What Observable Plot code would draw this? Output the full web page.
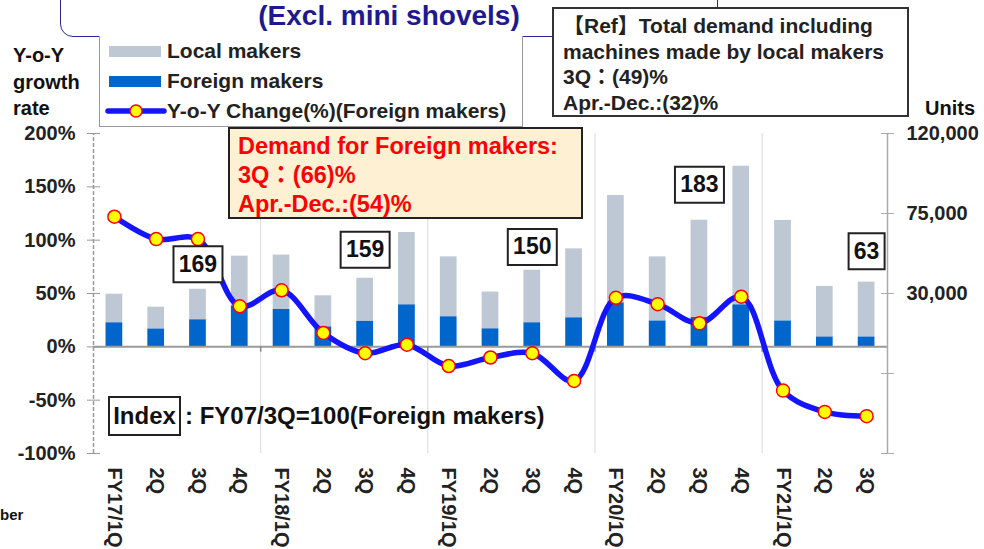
<!DOCTYPE html>
<html><head><meta charset="utf-8">
<script src="https://cdn.jsdelivr.net/npm/d3@7"></script>
<script src="https://cdn.jsdelivr.net/npm/@observablehq/plot@0.6"></script>
<style>
html,body{margin:0;padding:0;background:#fff;}
#wrap{position:relative;width:984px;height:549px;overflow:hidden;font-family:"Liberation Sans",Arial,"Noto Sans CJK JP",sans-serif;font-weight:bold;color:#222;}
#chart{position:absolute;left:0;top:0;}
.ov{position:absolute;white-space:nowrap;box-sizing:border-box;}
.lg{position:absolute;left:67px;font-size:21px;line-height:22px;}
</style></head><body>
<div id="wrap">
<div id="chart"></div>
<div class="ov" style="left:60px;top:-22px;width:658px;height:59px;border:1.5px solid #2A2A96;border-radius:0 0 13px 13px;background:#fff;"></div>
<div class="ov" style="left:60px;width:658px;top:1px;text-align:center;font-size:28px;line-height:30px;color:#1E1A8E;">(Excl. mini shovels)</div>
<div class="ov" style="left:99px;top:36px;width:424px;height:91px;border:1px solid #999;border-top:none;background:#fff;">
  <div style="position:absolute;left:9px;top:10px;width:52px;height:11px;background:#BDC8D4;"></div>
  <div class="lg" style="top:4px;">Local makers</div>
  <div style="position:absolute;left:9px;top:40px;width:52px;height:11px;background:#0066CC;"></div>
  <div class="lg" style="top:34px;">Foreign makers</div>
  <svg style="position:absolute;left:5px;top:66px;" width="62" height="18"><line x1="3" y1="9" x2="59" y2="9" stroke="#1414FF" stroke-width="5.5" stroke-linecap="round"/><circle cx="31" cy="9" r="6" fill="#FFFF00" stroke="#FF0000" stroke-width="1.5"/></svg>
  <div class="lg" style="top:64px;">Y-o-Y Change(%)(Foreign makers)</div>
</div>
<div class="ov" style="left:552px;top:7px;width:357px;height:110px;border:2px solid #333;background:#fff;padding:4px 0 0 9px;font-size:21px;line-height:25.5px;color:#222;">【Ref】Total demand including<br>machines made by local makers<br>3Q：(49)%<br>Apr.-Dec.:(32)%</div>
<div class="ov" style="left:13px;top:42px;font-size:20px;line-height:26.5px;color:#111;">Y-o-Y<br>growth<br>rate</div>
<div class="ov" style="left:925px;top:96px;font-size:20px;line-height:24px;color:#111;">Units</div>
<div class="ov" style="left:228px;top:127px;width:355px;height:92px;border:2px solid #222;background:#FEF1D3;padding:3px 0 0 8px;font-size:23.5px;line-height:29px;color:#FF0000;">Demand for Foreign makers:<br>3Q：(66)%<br>Apr.-Dec.:(54)%</div>
<div class="ov" style="left:108px;top:396px;width:73px;height:40px;border:2px solid #222;font-size:24px;line-height:36px;text-align:center;color:#111;">Index</div>
<div class="ov" style="left:185px;top:402px;font-size:24px;line-height:28px;color:#111;">: FY07/3Q=100(Foreign makers)</div>
<div class="ov" style="left:0px;top:506px;font-size:15px;line-height:18px;color:#111;">ber</div>
</div>
<script>
// ---- data ----
const periods = ["FY17/1Q","FY17/2Q","FY17/3Q","FY17/4Q","FY18/1Q","FY18/2Q","FY18/3Q","FY18/4Q","FY19/1Q","FY19/2Q","FY19/3Q","FY19/4Q","FY20/1Q","FY20/2Q","FY20/3Q","FY20/4Q","FY21/1Q","FY21/2Q","FY21/3Q"];
const tickLabels = ["FY17/1Q","2Q","3Q","4Q","FY18/1Q","2Q","3Q","4Q","FY19/1Q","2Q","3Q","4Q","FY20/1Q","2Q","3Q","4Q","FY21/1Q","2Q","3Q"];
const foreignUnits = [13500,10000,15200,23000,21000,11200,14300,23600,16900,10100,13500,16300,24700,14500,16500,23600,14500,5500,5500];
const localUnits = [16100,12300,17200,28000,30600,17500,24300,40700,33700,20700,29600,38800,60400,36100,54700,78000,56600,28500,30900];
const yoyChange = [122,101,101,38,53,13,-6,2,-18,-10,-6,-32,46,40,22,47,-41,-61,-65];
const indexPeriods = ["FY17/3Q","FY18/3Q","FY19/3Q","FY20/3Q","FY21/3Q"];
const indexValues = [169,159,150,183,63];
const yearStarts = ["FY18/1Q","FY19/1Q","FY20/1Q","FY21/1Q"];
const leftTicks = [-100,-50,0,50,100,150,200];
const rightTicks = [-100,-25,50,125,200];

// ---- build ----
const U = 600; // units per 1% (right axis 120,000 <-> left axis 200%)
const labelOf = Object.fromEntries(periods.map((p,i)=>[p,tickLabels[i]]));
const rows = periods.map((p,i)=>({period:p, foreign:foreignUnits[i], local:localUnits[i], yoy:yoyChange[i]}));
const indexBoxY = [77.5, 91, 93.5, 152, 89.7]; // annotation placement (% axis)
const indexRows = indexPeriods.map((p,i)=>({period:p, value:indexValues[i], y:indexBoxY[i]}));
const W = 984, H = 549, mL = 93, mR = 97, mT = 133, mB = 96;
const step = (W - mL - mR) / periods.length;
const boxSymbol = (w,h) => ({draw(ctx){ctx.moveTo(-w/2,-h/2);ctx.lineTo(w/2,-h/2);ctx.lineTo(w/2,h/2);ctx.lineTo(-w/2,h/2);ctx.closePath();}});
const font = {fontSize: 20, fontWeight: "bold", fill: "#222"};

const chart = Plot.plot({
  width: W, height: H,
  marginLeft: mL, marginRight: mR, marginTop: mT, marginBottom: mB,
  style: {fontFamily: "'Liberation Sans', Arial, sans-serif", background: "transparent"},
  x: {type: "band", domain: periods, paddingInner: 0.6, paddingOuter: 0.3, round: false},
  y: {domain: [-100, 200]},
  marks: [
    Plot.ruleX(yearStarts, {x: d=>d, dx: -step/2, y1: -100, y2: 200, stroke: "#D9D9D9", strokeWidth: 1}),
    Plot.barY(rows, {x: "period", y1: d=>d.foreign/U, y2: d=>(d.foreign+d.local)/U, fill: "#BDC8D4"}),
    Plot.barY(rows, {x: "period", y1: 0, y2: d=>d.foreign/U, fill: "#0066CC"}),
    Plot.ruleY([0], {stroke: "#9A9A9A", strokeWidth: 2}),
    Plot.ruleX(yearStarts, {x: d=>d, dx: -step/2, y1: 0, y2: -5, stroke: "#888", strokeWidth: 1.5}),
    Plot.ruleX([periods[0]], {x: d=>d, dx: -step/2, y1: -100, y2: 200, stroke: "#999", strokeWidth: 1.5, strokeDasharray: "4,2"}),
    Plot.ruleX([periods[periods.length-1]], {x: d=>d, dx: step/2, y1: -100, y2: 200, stroke: "#AAA", strokeWidth: 1.5}),
    Plot.axisY({anchor: "left", ticks: leftTicks, tickSize: 13, dx: 7, tickFormat: ()=>"", stroke: "#999", label: null}),
    Plot.axisY({anchor: "left", ticks: leftTicks, tickSize: 0, tickPadding: 18, tickFormat: d=>d+"%", label: null, ...font}),
    Plot.axisY({anchor: "right", ticks: rightTicks, tickSize: 13, dx: -7, tickFormat: ()=>"", stroke: "#AAA", label: null}),
    Plot.axisY({anchor: "right", ticks: rightTicks, tickSize: 0, tickPadding: 19, tickFormat: d=> d>0 ? d3.format(",")(d*U) : "", label: null, ...font}),
    Plot.axisX({tickRotate: 90, tickSize: 0, tickPadding: 14, tickFormat: d=>labelOf[d], label: null, ...font}),
    Plot.line(rows, {x: "period", y: "yoy", curve: "catmull-rom", stroke: "#1414FF", strokeWidth: 5.5}),
    Plot.dot(rows, {x: "period", y: "yoy", r: 6.5, fill: "#FFFF00", stroke: "#FF0000", strokeWidth: 1.5}),
    Plot.dot(indexRows, {filter: d=>d.value>=100, x: "period", y: "y", r: 10, symbol: boxSymbol(49,36), fill: "#fff", stroke: "#222", strokeWidth: 2}),
    Plot.dot(indexRows, {filter: d=>d.value<100, x: "period", y: "y", r: 10, symbol: boxSymbol(36,36), fill: "#fff", stroke: "#222", strokeWidth: 2}),
    Plot.text(indexRows, {x: "period", y: "y", text: d=>String(d.value), fontSize: 23, fontWeight: "bold", fill: "#111"})
  ]
});
document.getElementById("chart").appendChild(chart);
</script>
</body></html>
